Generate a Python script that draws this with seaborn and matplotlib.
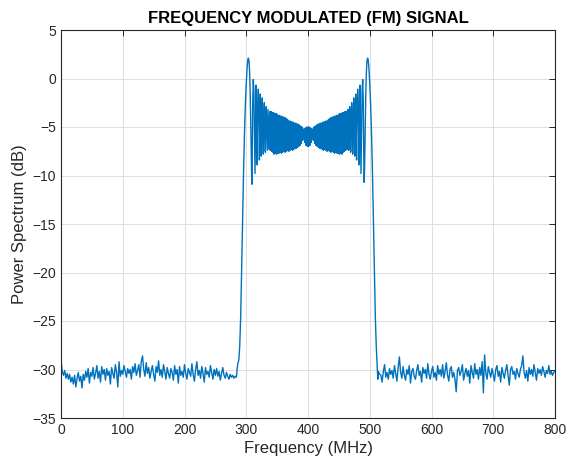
import numpy as np
import pandas as pd
import seaborn as sns
import matplotlib
matplotlib.use("Agg")
import matplotlib.pyplot as plt

# noise floor left of the band, 0..282 MHz every 2 MHz (dB)
noise_left_db = [
    -29.0, -30.2, -30.6, -30.1, -30.9, -30.4, -31.0, -30.5, -31.3, -30.8,
    -31.5, -30.6, -31.8, -30.9, -30.3, -31.2, -30.7, -31.9, -30.5, -31.1,
    -30.2, -30.8, -29.9, -31.4, -30.3, -30.7, -29.8, -31.0, -30.4, -29.6,
    -30.9, -30.2, -31.3, -29.7, -30.5, -30.0, -31.1, -29.9, -30.6, -30.2,
    -31.5, -29.8, -30.4, -30.9, -29.5, -30.3, -31.8, -29.2, -30.7, -30.1,
    -30.5, -29.6, -30.2, -30.8, -29.9, -30.4, -30.0, -31.0, -29.7, -30.3,
    -29.4, -30.6, -30.1, -29.5, -30.8, -29.2, -28.6, -30.0, -30.7, -29.3,
    -30.4, -29.8, -30.9, -30.2, -29.6, -30.5, -31.2, -29.7, -30.3, -29.1,
    -30.6, -30.0, -30.8, -29.5, -30.2, -31.0, -29.8, -30.4, -30.9, -29.9,
    -30.3, -31.1, -29.6, -30.5, -30.0, -31.4, -29.7, -30.6, -30.2, -30.8,
    -29.5, -30.4, -31.0, -29.9, -30.3, -30.7, -29.4, -30.5, -31.2, -30.0,
    -29.2, -30.6, -30.1, -30.9, -29.7, -30.4, -31.3, -29.8, -30.5, -30.2,
    -30.8, -29.6, -30.3, -31.0, -30.0, -30.6, -29.9, -30.7, -30.2, -31.1,
    -30.4, -29.8, -30.6, -30.9, -30.3, -30.7, -31.0, -30.5, -30.8, -30.6,
    -30.9, -30.7,
]

# rising edge and first Fresnel ripples
band_left_f = [
    284, 286, 288, 289.5, 291, 292.5, 294, 295.5, 297, 298.5,
    300, 301.5, 302.5, 303.5, 304.5, 305.5, 306.5, 307.5, 308.3, 309,
    309.7, 310.5, 311.4, 312.3, 313.2, 314.2, 315, 315.8, 316.6, 317.4,
    318.5, 319.6, 320.5, 321.3, 322.1, 322.8, 323.6, 324.3, 325.1, 326.0,
    326.8, 327.6, 328.4, 329.3, 330.1, 330.9, 331.7, 332.5, 333.3, 334.0,
    334.6, 335.2, 335.9, 336.6, 337.3, 338.0,
]
band_left_db = [
    -30.8, -29.5, -29.0, -27.5, -24.5, -20.0, -15.0, -10.0, -6.0, -2.8,
    -0.5, 1.2, 1.9, 2.1, 1.8, 0.6, -1.8, -5.5, -9.0, -10.9,
    -8.0, -2.5, -0.1, -1.2, -5.5, -9.8, -5.0, -0.7, -3.5, -8.9,
    -3.0, -1.1, -4.5, -8.4, -3.8, -1.6, -5.0, -8.0, -4.2, -2.0,
    -5.0, -7.8, -4.5, -2.5, -5.0, -7.6, -4.6, -2.9, -5.2, -7.4,
    -5.0, -3.2, -5.4, -7.3, -5.1, -3.4,
]

# dense ripple region 339..461 MHz every 1 MHz
band_mid_db = [
    -7.4, -3.4, -7.5, -3.5, -7.6, -3.5, -7.8, -3.6, -7.7, -3.6,
    -7.8, -3.7, -7.7, -3.8, -7.7, -3.8, -7.6, -3.9, -7.7, -3.9,
    -7.6, -4.0, -7.5, -4.0, -7.6, -4.1, -7.5, -4.2, -7.4, -4.3,
    -7.5, -4.4, -7.4, -4.4, -7.3, -4.5, -7.4, -4.5, -7.3, -4.6,
    -7.2, -4.6, -7.2, -4.7, -7.1, -4.7, -7.0, -4.8, -6.9, -4.9,
    -6.7, -5.0, -6.4, -5.2, -6.3, -5.2, -6.6, -5.1, -6.9, -5.0,
    -7.0, -5.0, -7.0, -5.0, -6.9, -5.1, -6.6, -5.2, -6.3, -5.2,
    -6.4, -5.0, -6.7, -4.9, -6.9, -4.8, -7.0, -4.7, -7.1, -4.7,
    -7.2, -4.6, -7.2, -4.6, -7.3, -4.5, -7.4, -4.5, -7.3, -4.4,
    -7.4, -4.4, -7.5, -4.3, -7.4, -4.2, -7.5, -4.1, -7.6, -4.0,
    -7.5, -4.0, -7.6, -3.9, -7.7, -3.9, -7.6, -3.8, -7.7, -3.8,
    -7.7, -3.7, -7.8, -3.6, -7.7, -3.6, -7.8, -3.5, -7.6, -3.5,
    -7.5, -3.4, -7.4,
]

# last ripples and falling edge
band_right_f = [
    462.0, 462.7, 463.4, 464.1, 464.8, 465.4, 466.0, 466.7, 467.5, 468.3,
    469.1, 469.9, 470.7, 471.6, 472.4, 473.2, 474.0, 474.9, 475.7, 476.4,
    477.2, 477.9, 478.7, 479.5, 480.4, 481.5, 482.6, 483.4, 484.2, 485.0,
    485.8, 486.8, 487.7, 488.6, 489.5, 490.3, 491.0, 491.7, 492.5, 493.5,
    494.5, 495.5, 496.5, 497.5, 498.5, 500.0, 501.5, 503.0, 504.5, 506.0,
    507.5, 509.0, 510.5, 512.0, 513.0, 514.0, 516.0,
]
band_right_db = [
    -3.4, -5.1, -7.3, -5.4, -3.2, -5.0, -7.4, -5.2, -2.9, -4.6,
    -7.6, -5.0, -2.5, -4.5, -7.8, -5.0, -2.0, -4.2, -8.0, -5.0,
    -1.6, -3.8, -8.4, -4.5, -1.1, -3.0, -8.9, -3.5, -0.7, -5.0,
    -9.8, -5.5, -1.2, -0.1, -2.5, -8.0, -10.7, -9.0, -5.5, -1.8,
    0.6, 1.8, 2.1, 1.9, 1.2, -0.5, -2.8, -6.0, -10.0, -15.0,
    -20.0, -24.5, -27.5, -29.5, -31.0, -30.2, -30.5,
]

# noise floor right of the band, 518..800 MHz every 2 MHz (dB)
noise_right_db = [
    -30.6, -31.3, -30.2, -29.5, -30.8, -30.3, -31.0, -29.9, -30.5, -30.1,
    -30.9, -29.6, -30.4, -31.2, -29.8, -28.7, -30.3, -30.9, -29.7, -30.6,
    -31.1, -30.0, -30.5, -29.6, -31.4, -30.2, -29.9, -30.7, -31.0, -30.1,
    -29.5, -30.6, -30.2, -31.3, -29.8, -30.4, -30.0, -30.9, -29.4, -30.5,
    -31.0, -30.2, -29.7, -30.8, -30.3, -31.1, -29.6, -30.5, -30.0, -30.7,
    -29.5, -30.9, -30.2, -29.3, -30.6, -31.2, -30.0, -29.7, -30.8, -30.3,
    -31.0, -32.3, -30.1, -29.8, -30.6, -30.2, -29.5, -31.1, -30.4, -29.9,
    -30.7, -30.1, -31.4, -29.6, -30.3, -30.9, -29.4, -30.5, -30.0, -31.0,
    -29.8, -30.6, -29.2, -32.4, -28.5, -30.4, -31.0, -29.7, -30.3, -30.8,
    -29.9, -30.5, -31.2, -30.0, -29.6, -30.7, -30.2, -31.3, -29.8, -30.4,
    -30.9, -30.1, -29.5, -30.6, -31.6, -30.0, -29.7, -30.5, -30.2, -31.0,
    -29.9, -30.4, -30.8, -30.0, -29.6, -28.6, -30.3, -30.9, -30.1, -31.2,
    -29.8, -30.5, -30.0, -30.7, -29.5, -30.3, -31.1, -29.9, -30.4, -30.0,
    -30.6, -29.7, -30.2, -30.8, -30.1, -30.4, -29.6, -30.5, -30.2, -30.6,
    -30.3, -30.1,
]

x_ticks = [0, 100, 200, 300, 400, 500, 600, 700, 800]
y_ticks = [5, 0, -5, -10, -15, -20, -25, -30, -35]

freq = np.concatenate([
    np.arange(0, 284, 2), band_left_f, np.arange(339, 462, 1),
    band_right_f, np.arange(518, 801, 2),
])
power = np.concatenate([
    noise_left_db, band_left_db, band_mid_db, band_right_db, noise_right_db,
])
df = pd.DataFrame({"Frequency": freq, "Power": power})

sns.set_style("whitegrid", {
    "grid.color": "#dedede",
    "axes.edgecolor": "#262626",
    "xtick.direction": "in",
    "ytick.direction": "in",
})
plt.rcParams["font.family"] = ["Liberation Sans", "DejaVu Sans"]

fig = plt.figure(figsize=(5.69, 4.70), dpi=100)
ax = fig.add_axes([61 / 569, 52 / 470, 494 / 569, 388 / 470])

sns.lineplot(data=df, x="Frequency", y="Power", estimator=None, sort=False,
             color="#0072BD", linewidth=1.0, ax=ax)

ax.set_xlim(0, 800)
ax.set_ylim(-35, 5)
ax.set_xticks(x_ticks)
ax.set_yticks(y_ticks)
ax.grid(True, color="#dedede", linewidth=0.7)
ax.tick_params(axis="both", which="both", direction="in", top=True, right=True,
               length=4, width=0.7, colors="#262626", labelsize=10,
               labelcolor="#262626")
for sp in ax.spines.values():
    sp.set_color("#262626")
    sp.set_linewidth(0.8)

ax.set_xlabel("Frequency (MHz)", fontsize=12, color="#262626", labelpad=3)
ax.set_ylabel("Power Spectrum (dB)", fontsize=12, color="#262626", labelpad=4)
ax.set_title("FREQUENCY MODULATED (FM) SIGNAL", fontsize=12, fontweight="bold",
             color="black", pad=5)

fig.savefig("out.png", dpi=100)
